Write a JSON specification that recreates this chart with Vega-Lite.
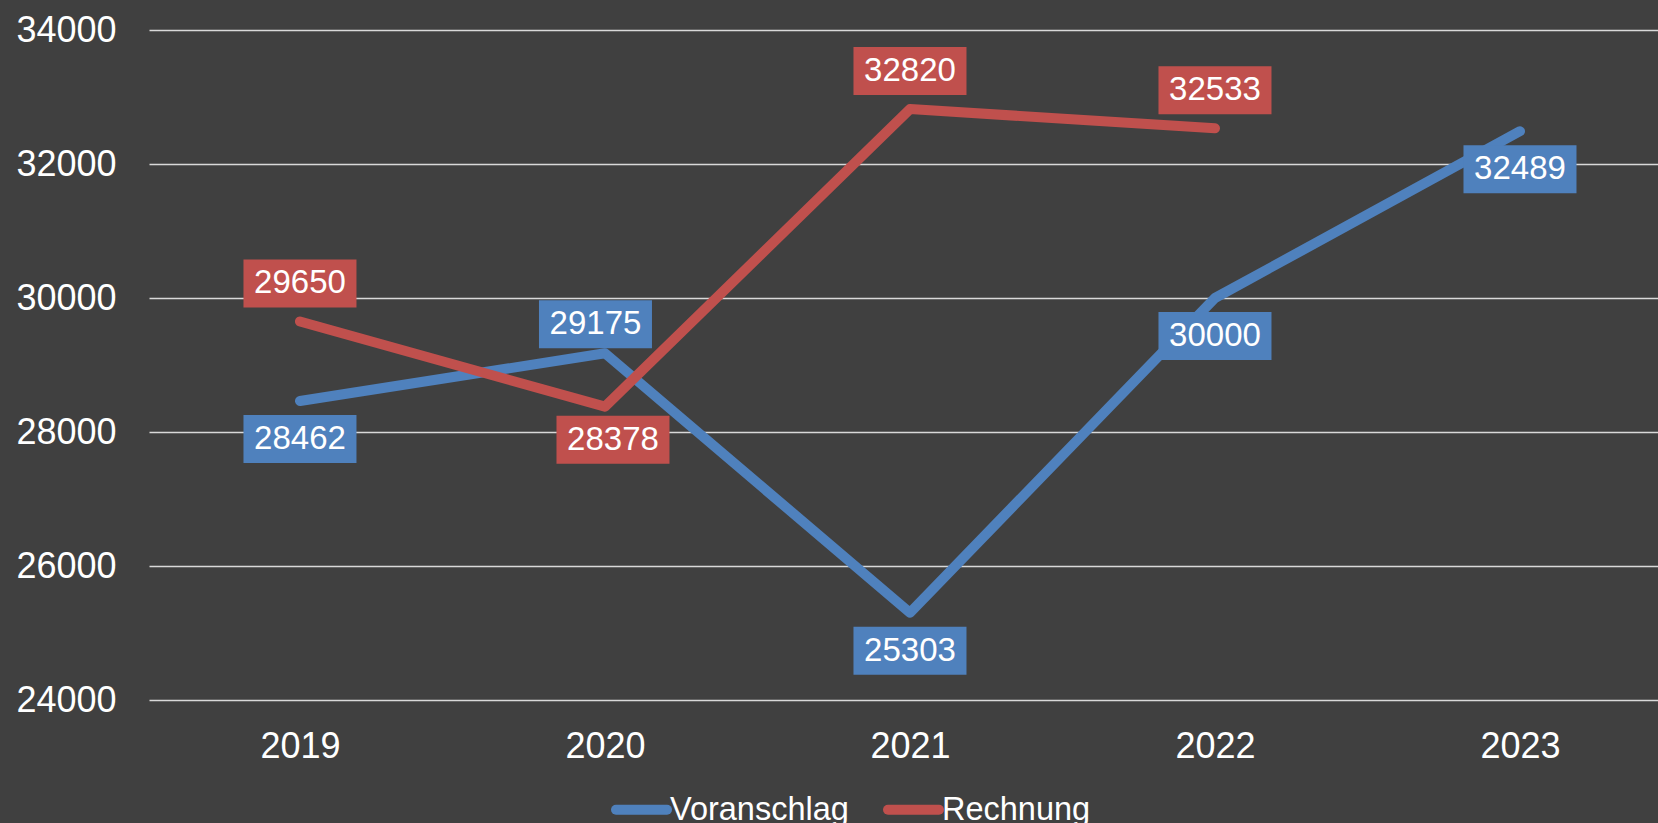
{
  "$schema": "https://vega.github.io/schema/vega-lite/v6.json",
  "width": 1509,
  "height": 670,
  "autosize": {"type": "none"},
  "padding": {"left": 149, "top": 30, "right": 0, "bottom": 123},
  "background": "#404040",
  "config": {"view": {"stroke": null}, "font": "Liberation Sans"},
  "data": {
    "values": [
      {"year": 2019, "series": "Voranschlag", "value": 28462},
      {"year": 2020, "series": "Voranschlag", "value": 29175},
      {"year": 2021, "series": "Voranschlag", "value": 25303},
      {"year": 2022, "series": "Voranschlag", "value": 30000},
      {"year": 2023, "series": "Voranschlag", "value": 32489},
      {"year": 2019, "series": "Rechnung", "value": 29650},
      {"year": 2020, "series": "Rechnung", "value": 28378},
      {"year": 2021, "series": "Rechnung", "value": 32820},
      {"year": 2022, "series": "Rechnung", "value": 32533}
    ]
  },
  "encoding": {
    "x": {
      "field": "year", "type": "quantitative",
      "scale": {"domain": [2018.505, 2023.4525], "nice": false, "zero": false},
      "axis": {"title": null, "values": [2019, 2020, 2021, 2022, 2023], "format": "d", "labelAngle": 0, "labelFontSize": 36, "labelColor": "#FFFFFF", "labelFont": "Liberation Sans", "ticks": false, "domain": false, "grid": false, "labelBaseline": "alphabetic", "labelPadding": 57, "labelFlush": false, "labelOverlap": false}
    },
    "y": {
      "field": "value", "type": "quantitative",
      "scale": {"domain": [24000, 34000], "nice": false, "zero": false},
      "axis": {"title": null, "values": [24000, 26000, 28000, 30000, 32000, 34000], "format": "d", "labelFontSize": 36, "labelColor": "#FFFFFF", "labelFont": "Liberation Sans", "labelPadding": 33, "ticks": false, "domain": false, "grid": true, "gridColor": "#D9D9D9", "gridWidth": 1.5}
    }
  },
  "layer": [
    {
      "mark": {"type": "line", "strokeWidth": 10, "strokeCap": "round", "strokeJoin": "round"},
      "encoding": {
        "color": {
          "field": "series", "type": "nominal",
          "scale": {"domain": ["Voranschlag", "Rechnung"], "range": ["#4F81BD", "#C0504D"]},
          "legend": {"orient": "none", "legendX": 462, "legendY": 749, "direction": "horizontal", "title": null, "labelFontSize": 32.5, "labelColor": "#FFFFFF", "labelFont": "Liberation Sans", "labelLimit": 0, "symbolType": "stroke", "symbolStrokeWidth": 10, "symbolSize": 2600, "labelOffset": -2, "columnPadding": 19, "padding": 0, "encode": {"symbols": {"update": {"strokeCap": {"value": "round"}}}}}
        }
      }
    },
    {
      "transform": [{"filter": "datum.series == 'Rechnung' && datum.year != 2020"}],
      "layer": [
        {"mark": {"type": "point", "shape": "M-1,-0.425H1V0.425H-1Z", "size": 12769, "filled": true, "opacity": 1, "strokeWidth": 0, "yOffset": -38},
         "encoding": {"fill": {"field": "series", "type": "nominal", "scale": {"domain": ["Voranschlag", "Rechnung"], "range": ["#4F81BD", "#C0504D"]}, "legend": null}}},
        {"mark": {"type": "text", "fontSize": 33, "color": "#FFFFFF", "baseline": "middle", "align": "center", "yOffset": -38},
         "encoding": {"text": {"field": "value", "type": "quantitative", "format": "d"}}}
      ]
    },
    {
      "transform": [{"filter": "datum.series == 'Voranschlag' && datum.year != 2020"}],
      "layer": [
        {"mark": {"type": "point", "shape": "M-1,-0.425H1V0.425H-1Z", "size": 12769, "filled": true, "opacity": 1, "strokeWidth": 0, "yOffset": 38},
         "encoding": {"fill": {"field": "series", "type": "nominal", "scale": {"domain": ["Voranschlag", "Rechnung"], "range": ["#4F81BD", "#C0504D"]}, "legend": null}}},
        {"mark": {"type": "text", "fontSize": 33, "color": "#FFFFFF", "baseline": "middle", "align": "center", "yOffset": 38},
         "encoding": {"text": {"field": "value", "type": "quantitative", "format": "d"}}}
      ]
    },
    {
      "transform": [{"filter": "datum.series == 'Voranschlag' && datum.year == 2020"}],
      "layer": [
        {"mark": {"type": "point", "shape": "M-1,-0.425H1V0.425H-1Z", "size": 12769, "filled": true, "opacity": 1, "strokeWidth": 0, "xOffset": -9.5, "yOffset": -29},
         "encoding": {"fill": {"field": "series", "type": "nominal", "scale": {"domain": ["Voranschlag", "Rechnung"], "range": ["#4F81BD", "#C0504D"]}, "legend": null}}},
        {"mark": {"type": "text", "fontSize": 33, "color": "#FFFFFF", "baseline": "middle", "align": "center", "xOffset": -9.5, "yOffset": -29},
         "encoding": {"text": {"field": "value", "type": "quantitative", "format": "d"}}}
      ]
    },
    {
      "transform": [{"filter": "datum.series == 'Rechnung' && datum.year == 2020"}],
      "layer": [
        {"mark": {"type": "point", "shape": "M-1,-0.425H1V0.425H-1Z", "size": 12769, "filled": true, "opacity": 1, "strokeWidth": 0, "xOffset": 8, "yOffset": 33},
         "encoding": {"fill": {"field": "series", "type": "nominal", "scale": {"domain": ["Voranschlag", "Rechnung"], "range": ["#4F81BD", "#C0504D"]}, "legend": null}}},
        {"mark": {"type": "text", "fontSize": 33, "color": "#FFFFFF", "baseline": "middle", "align": "center", "xOffset": 8, "yOffset": 33},
         "encoding": {"text": {"field": "value", "type": "quantitative", "format": "d"}}}
      ]
    }
  ]
}
